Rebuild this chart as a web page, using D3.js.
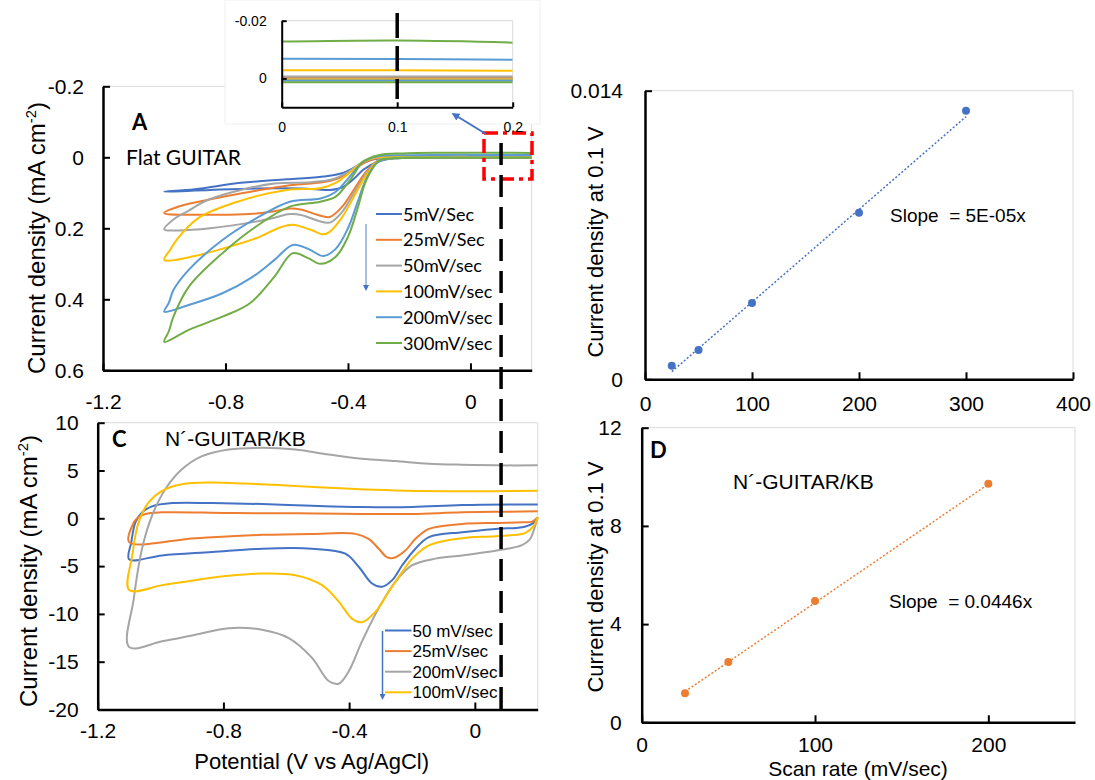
<!DOCTYPE html>
<html>
<head>
<meta charset="utf-8">
<script src="https://cdn.jsdelivr.net/npm/d3@7"></script>
<style>
  body { margin: 0; background: #fff; }
  text { font-family: "Liberation Sans", Arial, sans-serif; fill: #000; }
  .cal { font-family: Lato, "Open Sans", sans-serif; }
</style>
</head>
<body>
<script>

// ---------- panel A : Flat GUITAR, CV loops [V, mA cm-2] (cathodic sweep then anodic sweep)
const flat5 = [[0.2,0.0006],[0.1,0.0006],[0,0.0006],[-0.15,0.0008],[-0.25,0.003],[-0.3,0.012],[-0.35,0.035],[-0.38,0.06],[-0.42,0.085],[-0.46,0.092],[-0.55,0.088],[-0.7,0.088],[-0.85,0.092],[-1.0,0.097],
  [-0.9,0.09],[-0.75,0.072],[-0.6,0.062],[-0.48,0.054],[-0.42,0.045],[-0.37,0.025],[-0.32,0.006],[-0.25,0.0005],[-0.15,0],[0,0],[0.1,0],[0.2,0]];
const flat25 = [[0.2,0.0002],[0.1,0.0002],[0,0.0002],[-0.15,0.0004],[-0.25,0.002],[-0.3,0.008],[-0.34,0.04],[-0.38,0.09],[-0.42,0.14],[-0.46,0.168],[-0.5,0.162],[-0.55,0.148],[-0.59,0.144],[-0.64,0.152],[-0.72,0.16],[-0.85,0.162],[-1.0,0.157],
  [-0.95,0.138],[-0.88,0.124],[-0.8,0.11],[-0.7,0.094],[-0.6,0.08],[-0.5,0.072],[-0.44,0.062],[-0.39,0.04],[-0.34,0.012],[-0.3,0.001],[-0.2,-0.0002],[0,-0.0003],[0.1,-0.0003],[0.2,-0.0003]];
const flat50 = [[0.2,0.0003],[0.1,0.0003],[0,0.0003],[-0.15,0.0005],[-0.25,0.002],[-0.3,0.008],[-0.34,0.045],[-0.38,0.1],[-0.42,0.155],[-0.46,0.184],[-0.5,0.178],[-0.55,0.163],[-0.59,0.16],[-0.64,0.17],[-0.72,0.184],[-0.85,0.2],[-0.95,0.206],[-1.0,0.203],
  [-0.97,0.175],[-0.92,0.15],[-0.86,0.121],[-0.75,0.092],[-0.64,0.074],[-0.52,0.07],[-0.45,0.062],[-0.4,0.042],[-0.35,0.012],[-0.3,0],[-0.2,-0.0006],[0,-0.0007],[0.1,-0.0007],[0.2,-0.0007]];
const flat100 = [[0.2,0.0004],[0.1,0.0004],[0,0.0004],[-0.15,0.0006],[-0.25,0.003],[-0.3,0.01],[-0.34,0.05],[-0.38,0.11],[-0.42,0.17],[-0.46,0.21],[-0.48,0.217],[-0.52,0.205],[-0.58,0.19],[-0.62,0.197],[-0.7,0.228],[-0.8,0.255],[-0.9,0.278],[-1.0,0.289],
  [-0.98,0.26],[-0.96,0.233],[-0.89,0.172],[-0.76,0.125],[-0.6,0.092],[-0.49,0.087],[-0.44,0.072],[-0.39,0.04],[-0.35,0.012],[-0.3,0],[-0.22,-0.002],[-0.1,-0.0027],[0,-0.0028],[0.1,-0.0028],[0.2,-0.0027]];
const flat200 = [[0.2,0.0007],[0.1,0.0007],[0,0.0007],[-0.15,0.001],[-0.25,0.003],[-0.3,0.012],[-0.34,0.06],[-0.37,0.13],[-0.4,0.2],[-0.44,0.258],[-0.48,0.278],[-0.53,0.258],[-0.58,0.247],[-0.64,0.289],[-0.71,0.336],[-0.81,0.383],[-0.92,0.416],[-1.0,0.435],
  [-0.985,0.41],[-0.97,0.374],[-0.92,0.317],[-0.81,0.233],[-0.7,0.172],[-0.59,0.125],[-0.49,0.116],[-0.44,0.097],[-0.39,0.05],[-0.35,0.012],[-0.3,-0.003],[-0.22,-0.006],[-0.1,-0.0068],[0,-0.0068],[0.1,-0.0067],[0.2,-0.0065]];
const flat300 = [[0.2,0.0013],[0.1,0.0013],[0,0.0013],[-0.15,0.0015],[-0.25,0.003],[-0.3,0.01],[-0.34,0.064],[-0.37,0.148],[-0.4,0.224],[-0.44,0.28],[-0.49,0.3],[-0.53,0.284],[-0.58,0.27],[-0.64,0.336],[-0.72,0.411],[-0.81,0.449],[-0.92,0.486],[-1.0,0.52],
  [-0.985,0.49],[-0.97,0.449],[-0.92,0.365],[-0.81,0.27],[-0.7,0.195],[-0.59,0.139],[-0.49,0.125],[-0.44,0.111],[-0.39,0.06],[-0.35,0.012],[-0.3,-0.006],[-0.22,-0.011],[-0.1,-0.0128],[0,-0.0128],[0.1,-0.0131],[0.2,-0.0124]];
const flatLabels = ["5mV/Sec", "25mV/Sec", "50mV/sec", "100mV/sec", "200mV/sec", "300mV/sec"];
const flatColors = ["#4472C4", "#ED7D31", "#A5A5A5", "#FFC000", "#5B9BD5", "#70AD47"];

// ---------- panel B : current density at 0.1 V vs scan rate (flat)
const rateB = [25, 50, 100, 200, 300];
const currB = [0.00066, 0.00142, 0.0037, 0.00808, 0.01303];
const trendB = [[25, 0.00037], [300, 0.01274]];

// ---------- panel C : N'-GUITAR/KB CV loops [V, mA cm-2]
const kb50 = [[0.2,0.1],[0.182,-0.59],[0.151,-0.93],[0.066,-1.11],[-0.04,-1.45],[-0.146,-1.97],[-0.189,-3.18],[-0.231,-4.91],[-0.263,-6.47],[-0.295,-7.16],[-0.327,-6.82],[-0.369,-5.09],[-0.412,-3.7],[-0.518,-3.18],[-0.677,-3.18],[-0.836,-3.53],[-0.995,-3.88],[-1.1,-4.29],
  [-1.093,-2.49],[-1.08,-0.42],[-1.059,0.62],[-1.027,1.25],[-0.963,1.59],[-0.836,1.59],[-0.677,1.49],[-0.518,1.31],[-0.359,1.18],[-0.199,1.18],[-0.04,1.38],[0.2,1.45]];
const kb25 = [[0.2,0.1],[0.182,-0.35],[0.151,-0.42],[0.066,-0.48],[-0.04,-0.59],[-0.146,-1.11],[-0.189,-2.15],[-0.221,-3.36],[-0.26,-4.15],[-0.28,-4.05],[-0.306,-3.18],[-0.338,-2.15],[-0.38,-1.63],[-0.518,-1.63],[-0.677,-1.73],[-0.889,-2.08],[-1.1,-2.49],
  [-1.09,-0.76],[-1.075,0],[-1.048,0.45],[-0.995,0.62],[-0.783,0.55],[-0.571,0.52],[-0.359,0.45],[-0.199,0.45],[-0.04,0.62],[0.2,0.73]];
const kb200 = [[0.2,0.1],[0.19,-1.0],[0.175,-2.2],[0.15,-2.8],[0.066,-3.4],[-0.04,-3.88],[-0.125,-4.22],[-0.199,-4.91],[-0.253,-6.64],[-0.306,-9.41],[-0.359,-12.87],[-0.401,-15.99],[-0.433,-17.3],[-0.465,-17.02],[-0.518,-14.6],[-0.592,-12.53],[-0.677,-11.66],[-0.783,-11.49],[-0.889,-12.18],[-0.995,-12.87],[-1.1,-13.46],
  [-1.085,-8.37],[-1.059,-3.18],[-1.027,0.28],[-0.985,3.04],[-0.932,5.12],[-0.868,6.5],[-0.783,7.2],[-0.677,7.37],[-0.571,7.2],[-0.465,6.68],[-0.359,6.23],[-0.253,5.99],[-0.146,5.71],[-0.04,5.6],[0.066,5.54],[0.2,5.54]];
const kb100 = [[0.2,0.1],[0.188,-0.76],[0.161,-1.52],[0.066,-1.87],[-0.04,-2.08],[-0.146,-2.84],[-0.199,-4.22],[-0.231,-5.6],[-0.274,-7.68],[-0.316,-9.76],[-0.359,-10.87],[-0.39,-10.52],[-0.433,-8.72],[-0.486,-6.99],[-0.571,-5.95],[-0.677,-5.78],[-0.783,-6.02],[-0.889,-6.47],[-0.995,-6.99],[-1.1,-7.51],
  [-1.09,-3.88],[-1.07,-0.42],[-1.038,1.66],[-0.995,2.87],[-0.932,3.56],[-0.836,3.74],[-0.73,3.63],[-0.571,3.39],[-0.412,3.11],[-0.253,2.91],[-0.093,2.84],[0.066,2.84],[0.2,2.87]];
const kbLabels = ["50 mV/sec", "25mV/sec", "200mV/sec", "100mV/sec"];
const kbColors = ["#4472C4", "#ED7D31", "#A5A5A5", "#FFC000"];

// ---------- panel D : current density at 0.1 V vs scan rate (KB)
const rateD = [25, 50, 100, 200];
const currD = [1.18, 2.46, 4.94, 9.72];
const trendD = [[25, 1.25], [200, 9.7]];

const svg = d3.select("body").append("svg")
  .attr("width", 1095)
  .attr("height", 780);

svg.append("rect").attr("width", 1095).attr("height", 780).attr("fill", "#fff");

// scales
const xA = d3.scaleLinear().domain([-1.2, 0.2]).range([103, 531.7]);
const yA = d3.scaleLinear().domain([-0.2, 0.6]).range([86.3, 370.3]);
const xI = d3.scaleLinear().domain([0, 0.2]).range([281.7, 512.7]);
const yI = d3.scaleLinear().domain([-0.02, 0.01]).range([20.7, 107.3]);
const xB = d3.scaleLinear().domain([0, 400]).range([645, 1073]);
const yB = d3.scaleLinear().domain([0, 0.014]).range([379.3, 90.7]);
const xC = d3.scaleLinear().domain([-1.2, 0.2]).range([97.7, 537.7]);
const yC = d3.scaleLinear().domain([-20, 10]).range([709.5, 422.7]);
const xD = d3.scaleLinear().domain([0, 250]).range([641.7, 1075]);
const yD = d3.scaleLinear().domain([0, 12]).range([722.3, 427.7]);

const fmt1 = d => String(Math.round(d * 10) / 10);
const rTop = s => Math.min(...s.range());
const rBot = s => Math.max(...s.range());

// light gray plot-area frame (top + right) like Excel
function frame(x, y) {
  svg.append("path")
    .attr("d", `M${x.range()[0]},${rTop(y)}H${x.range()[1]}V${rBot(y)}`)
    .attr("fill", "none").attr("stroke", "#d9d9d9").attr("stroke-width", 1);
}

function clip(id, x, y) {
  svg.append("clipPath").attr("id", id).append("rect")
    .attr("x", x.range()[0]).attr("y", rTop(y))
    .attr("width", x.range()[1] - x.range()[0]).attr("height", rBot(y) - rTop(y));
}

function styleAxis(g, fs) {
  g.select(".domain").attr("stroke", "#000").attr("stroke-width", 2.5);
  g.selectAll(".tick line").attr("stroke", "#000").attr("stroke-width", 2);
  g.selectAll(".tick text").attr("font-size", fs).attr("font-family", "Liberation Sans, Arial, sans-serif").attr("fill", "#000");
}

function axes(x, y, xt, xfmt, yt, yfmt, padX, padY, fs) {
  svg.append("g")
    .attr("transform", "translate(0," + rBot(y) + ")")
    .call(d3.axisBottom(x).tickValues(xt).tickFormat(xfmt).tickSizeInner(-7).tickSizeOuter(0).tickPadding(padX))
    .call(g => styleAxis(g, fs));
  svg.append("g")
    .attr("transform", "translate(" + x.range()[0] + ",0)")
    .call(d3.axisLeft(y).tickValues(yt).tickFormat(yfmt).tickSizeInner(-7).tickSizeOuter(0).tickPadding(padY))
    .call(g => styleAxis(g, fs));
}

function yTitle(cx, cy, size, parts) {
  const t = svg.append("text")
    .attr("transform", `translate(${cx},${cy}) rotate(-90)`)
    .attr("text-anchor", "middle")
    .attr("dy", "0.35em")
    .attr("font-size", size);
  parts.forEach(p => {
    const s = t.append("tspan").text(p.t);
    if (p.sup) s.attr("font-size", size * 0.62).attr("dy", -size * 0.4);
    if (p.after) s.attr("dy", size * 0.4);
  });
}

svg.append("defs").html(
  '<marker id="arrB" viewBox="0 0 10 10" refX="5" refY="5" markerWidth="4" markerHeight="4" orient="auto-start-reverse">' +
  '<path d="M0,0L10,5L0,10z" fill="#4472C4"/></marker>');

// ================= panel A =================
frame(xA, yA);
clip("clipA", xA, yA);

const lineA = d3.line().x(d => xA(d[0])).y(d => yA(d[1])).curve(d3.curveCatmullRom.alpha(0.5));
const flatSeries = [flat5, flat25, flat50, flat100, flat200, flat300];
svg.append("g").attr("clip-path", "url(#clipA)")
  .selectAll("path").data(flatSeries).join("path")
  .attr("d", lineA)
  .attr("fill", "none")
  .attr("stroke", (d, i) => flatColors[i])
  .attr("stroke-width", 2);

axes(xA, yA, [-1.2, -0.8, -0.4, 0], fmt1, [-0.2, 0, 0.2, 0.4, 0.6], fmt1, 24, 19, 21);

svg.append("text").attr("class", "cal").attr("x", 132).attr("y", 130)
  .attr("font-size", 22).attr("font-weight", "bold").text("A");
svg.append("text").attr("class", "cal").attr("x", 126).attr("y", 165)
  .attr("font-size", 21).text("Flat GUITAR");

yTitle(37, 238, 24, [{t: "Current density (mA cm"}, {t: "-2", sup: true}, {t: ")", after: true}]);

// legend A
flatLabels.forEach((lab, i) => {
  const yy = 214 + i * 25.8;
  svg.append("line").attr("x1", 376).attr("x2", 402).attr("y1", yy).attr("y2", yy)
    .attr("stroke", flatColors[i]).attr("stroke-width", 2);
  svg.append("text").attr("class", "cal").attr("x", 403).attr("y", yy + 6.5)
    .attr("font-size", 18).text(lab);
});
svg.append("line").attr("x1", 366).attr("x2", 366).attr("y1", 224).attr("y2", 288)
  .attr("stroke", "#8FAADC").attr("stroke-width", 1.5).attr("marker-end", "url(#arrB)");

// red dash-dot zoom box
svg.append("rect").attr("x", 484).attr("y", 133).attr("width", 48).attr("height", 46)
  .attr("fill", "none").attr("stroke", "#FF0000").attr("stroke-width", 3.5)
  .attr("stroke-dasharray", "14,5,4,5");

// ================= inset =================
svg.append("rect").attr("x", 225).attr("y", 0).attr("width", 315).attr("height", 124)
  .attr("fill", "#fff").attr("stroke", "#f0f0f0").attr("stroke-width", 1);
frame(xI, yI);
clip("clipI", xI, yI);
const lineI = d3.line().x(d => xI(d[0])).y(d => yI(d[1])).curve(d3.curveCatmullRom.alpha(0.5));
svg.append("g").attr("clip-path", "url(#clipI)")
  .selectAll("path").data(flatSeries).join("path")
  .attr("d", lineI)
  .attr("fill", "none")
  .attr("stroke", (d, i) => flatColors[i])
  .attr("stroke-width", 2);

svg.append("g").attr("transform", "translate(0," + rBot(yI) + ")")
  .call(d3.axisBottom(xI).tickValues([0, 0.1, 0.2]).tickFormat(fmt1).tickSizeInner(-5).tickSizeOuter(0).tickPadding(15))
  .call(g => styleAxis(g, 14))
  .call(g => g.select(".domain").attr("stroke-width", 2));
svg.append("g").attr("transform", "translate(" + xI.range()[0] + ",0)")
  .call(d3.axisLeft(yI).tickValues([-0.02, 0]).tickFormat(d => d === 0 ? "0" : "-0.02").tickSizeInner(-5).tickSizeOuter(0).tickPadding(15))
  .call(g => styleAxis(g, 14))
  .call(g => g.select(".domain").attr("stroke-width", 2));

svg.append("line").attr("x1", xI(0.1)).attr("x2", xI(0.1)).attr("y1", 13).attr("y2", 99)
  .attr("stroke", "#000").attr("stroke-width", 3.5).attr("stroke-dasharray", "25,8");

// blue arrow from zoom box to inset
svg.append("line").attr("x1", 486).attr("y1", 134).attr("x2", 455).attr("y2", 115)
  .attr("stroke", "#4472C4").attr("stroke-width", 2).attr("marker-end", "url(#arrB)");

// ================= panel B =================
frame(xB, yB);
axes(xB, yB, [0, 100, 200, 300, 400], d => String(d), [0, 0.014], d => String(d), 17, 22, 21);
svg.append("path").datum(trendB)
  .attr("d", d3.line().x(d => xB(d[0])).y(d => yB(d[1])))
  .attr("fill", "none").attr("stroke", "#4472C4").attr("stroke-width", 1.5).attr("stroke-dasharray", "2,2");
svg.append("g").selectAll("circle").data(rateB).join("circle")
  .attr("cx", d => xB(d)).attr("cy", (d, i) => yB(currB[i])).attr("r", 4).attr("fill", "#4472C4");
svg.append("text").attr("x", 890).attr("y", 221.7).attr("font-size", 19)
  .attr("xml:space", "preserve").text("Slope  = 5E-05x");
yTitle(595, 242, 22, [{t: "Current density at 0.1 V"}]);

// ================= panel C =================
frame(xC, yC);
const lineC = d3.line().x(d => xC(d[0])).y(d => yC(d[1])).curve(d3.curveCatmullRom.alpha(0.5));
svg.append("g").selectAll("path").data([kb50, kb25, kb200, kb100]).join("path")
  .attr("d", lineC)
  .attr("fill", "none")
  .attr("stroke", (d, i) => kbColors[i])
  .attr("stroke-width", 2);

axes(xC, yC, [-1.2, -0.8, -0.4, 0], fmt1, [-20, -15, -10, -5, 0, 5, 10], d => String(d), 14, 19, 21);

svg.append("text").attr("class", "cal").attr("x", 112).attr("y", 446.7)
  .attr("font-size", 22).attr("font-weight", "bold").text("C");
svg.append("text").attr("x", 165).attr("y", 445.7).attr("font-size", 21).text("N´-GUITAR/KB");
yTitle(29, 571, 24, [{t: "Current density (mA cm"}, {t: "-2", sup: true}, {t: ")", after: true}]);
svg.append("text").attr("x", 311.7).attr("y", 769).attr("text-anchor", "middle")
  .attr("font-size", 22).text("Potential (V vs Ag/AgCl)");

// legend C
kbLabels.forEach((lab, i) => {
  const yy = 630.5 + i * 20.6;
  svg.append("line").attr("x1", 385).attr("x2", 411.5).attr("y1", yy).attr("y2", yy)
    .attr("stroke", kbColors[i]).attr("stroke-width", 2);
  svg.append("text").attr("x", 412.5).attr("y", yy + 6).attr("font-size", 17).text(lab);
});
svg.append("line").attr("x1", 382.5).attr("x2", 382.5).attr("y1", 631).attr("y2", 697)
  .attr("stroke", "#4472C4").attr("stroke-width", 1.5).attr("marker-end", "url(#arrB)");

// ================= panel D =================
frame(xD, yD);
axes(xD, yD, [0, 100, 200], d => String(d), [0, 4, 8, 12], d => String(d), 15, 20, 21);
svg.append("path").datum(trendD)
  .attr("d", d3.line().x(d => xD(d[0])).y(d => yD(d[1])))
  .attr("fill", "none").attr("stroke", "#ED7D31").attr("stroke-width", 1.5).attr("stroke-dasharray", "2,2");
svg.append("g").selectAll("circle").data(rateD).join("circle")
  .attr("cx", d => xD(d)).attr("cy", (d, i) => yD(currD[i])).attr("r", 4).attr("fill", "#ED7D31");
svg.append("text").attr("class", "cal").attr("x", 650).attr("y", 458)
  .attr("font-size", 22).attr("font-weight", "bold").text("D");
svg.append("text").attr("x", 733).attr("y", 489.3).attr("font-size", 21).text("N´-GUITAR/KB");
svg.append("text").attr("x", 889).attr("y", 608.3).attr("font-size", 19)
  .attr("xml:space", "preserve").text("Slope  = 0.0446x");
yTitle(595, 577, 22, [{t: "Current density at 0.1 V"}]);
svg.append("text").attr("x", 858).attr("y", 776).attr("text-anchor", "middle")
  .attr("font-size", 21).text("Scan rate (mV/sec)");

// long dashed marker at 0.1 V through panels A and C
svg.append("line").attr("x1", xA(0.1)).attr("x2", xA(0.1)).attr("y1", 143).attr("y2", 713)
  .attr("stroke", "#000").attr("stroke-width", 3.5).attr("stroke-dasharray", "22,10");

</script>
</body>
</html>
